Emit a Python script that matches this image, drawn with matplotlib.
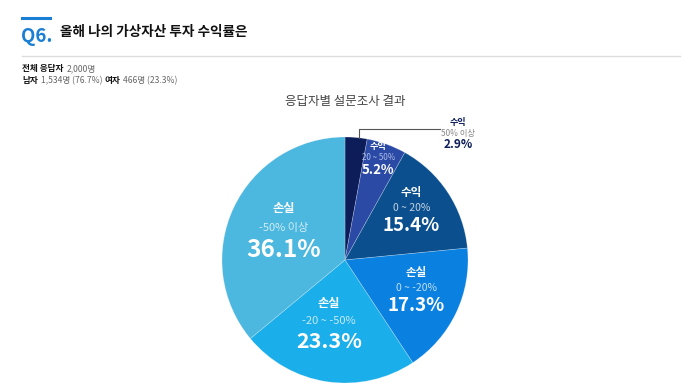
import numpy as np
import matplotlib
matplotlib.use('Agg')
from matplotlib import pyplot as plt
from matplotlib.lines import Line2D

plt.rcParams['font.family'] = ['Noto Sans CJK KR', 'DejaVu Sans']

# data
shares = [2.9, 5.2, 15.4, 17.3, 23.3, 36.1]
groups = ['수익', '수익', '수익', '손실', '손실', '손실']
ranges = ['50% 이상', '20 ~ 50%', '0 ~ 20%', '0 ~ -20%', '-20 ~ -50%', '-50% 이상']
colors = ['#0c1d5a', '#2a4aa6', '#0b4f8e', '#0a80e0', '#1aaeea', '#4cb7df']

W, H = 700, 392
fig = plt.figure(figsize=(W / 100, H / 100), dpi=100, facecolor='white')


def fx(x):
    return x / W


def fy(y):
    return 1 - y / H


def runs(x, y, parts, size):
    # draw (text, bold, color) pieces one after another on a line
    r = fig.canvas.get_renderer()
    for s, bold, c in parts:
        t = fig.text(fx(x), fy(y), s, fontsize=size, color=c,
                     fontweight='bold' if bold else 'normal', va='center', ha='left')
        x += t.get_window_extent(r).width + size * 0.45


# header
fig.add_artist(Line2D([fx(22), fx(50)], [fy(18), fy(18)], color='#1a7fd4', lw=2.2))
fig.text(fx(21), fy(37), 'Q6.', fontsize=13.5, fontweight='bold', color='#1a7fd4', va='center')
fig.text(fx(60), fy(32), '올해 나의 가상자산 투자 수익률은', fontsize=9.8, fontweight='bold',
         color='#111111', va='center')
fig.add_artist(Line2D([fx(22), fx(680)], [fy(56), fy(56)], color='#dddddd', lw=1))

runs(22, 69, [('전체 응답자', True, '#111111'), ('2,000명', False, '#666666')], 6.2)
runs(22, 81, [('남자', True, '#111111'), ('1,534명 (76.7%)', False, '#666666'),
              ('여자', True, '#111111'), ('466명 (23.3%)', False, '#666666')], 6.2)

fig.text(fx(345), fy(101), '응답자별 설문조사 결과', fontsize=9, color='#444444',
         ha='center', va='center')

# pie
cx, cy, R = 345, 260, 123
ax = fig.add_axes([(cx - R) / W, (H - cy - R) / H, 2 * R / W, 2 * R / H])
wedges, _ = ax.pie(shares, colors=colors, startangle=90, counterclock=False,
                   radius=1, wedgeprops=dict(edgecolor=(1, 1, 1, 0.3), linewidth=0.5))
ax.set_xlim(-1, 1)
ax.set_ylim(-1, 1)
ax.set_aspect('equal')
ax.axis('off')

# label centres (relative to radius) and font sizes for inner labels
label_pos = [None, (0.27, 0.83), (0.54, 0.42), (0.58, -0.23), (-0.13, -0.50), (-0.50, 0.26)]
big_size = [None, 9.5, 13.5, 13.5, 15.5, 17.5]
small_size = [None, 5.8, 7.5, 7.5, 8, 8]
for i, pos in enumerate(label_pos):
    if pos is None:
        continue
    px, py = pos
    k = big_size[i] / 12.5
    ax.text(px, py + 0.10 * k + 0.02, groups[i], fontsize=small_size[i] + 0.8, fontweight='bold',
            color='white', ha='center', va='center')
    ax.text(px, py, ranges[i], fontsize=small_size[i],
            color='#aebde6' if i == 1 else (1, 1, 1, 0.75), ha='center', va='center')
    ax.text(px, py - 0.13 * k, f'{shares[i]}%', fontsize=big_size[i], fontweight='bold',
            color='white', ha='center', va='center')

# outside label for the smallest slice
fig.add_artist(Line2D([fx(359), fx(359), fx(440)], [fy(138), fy(129), fy(129)],
                      color='#555555', lw=0.8))
fig.text(fx(458), fy(123), groups[0], fontsize=6.5, fontweight='bold', color='#0c1d5a',
         ha='center', va='center')
fig.text(fx(458), fy(133.5), ranges[0], fontsize=6, color='#888888', ha='center', va='center')
fig.text(fx(458), fy(144), f'{shares[0]}%', fontsize=8.5, fontweight='bold', color='#0c1d5a',
         ha='center', va='center')

fig.savefig('out.png', dpi=100)
